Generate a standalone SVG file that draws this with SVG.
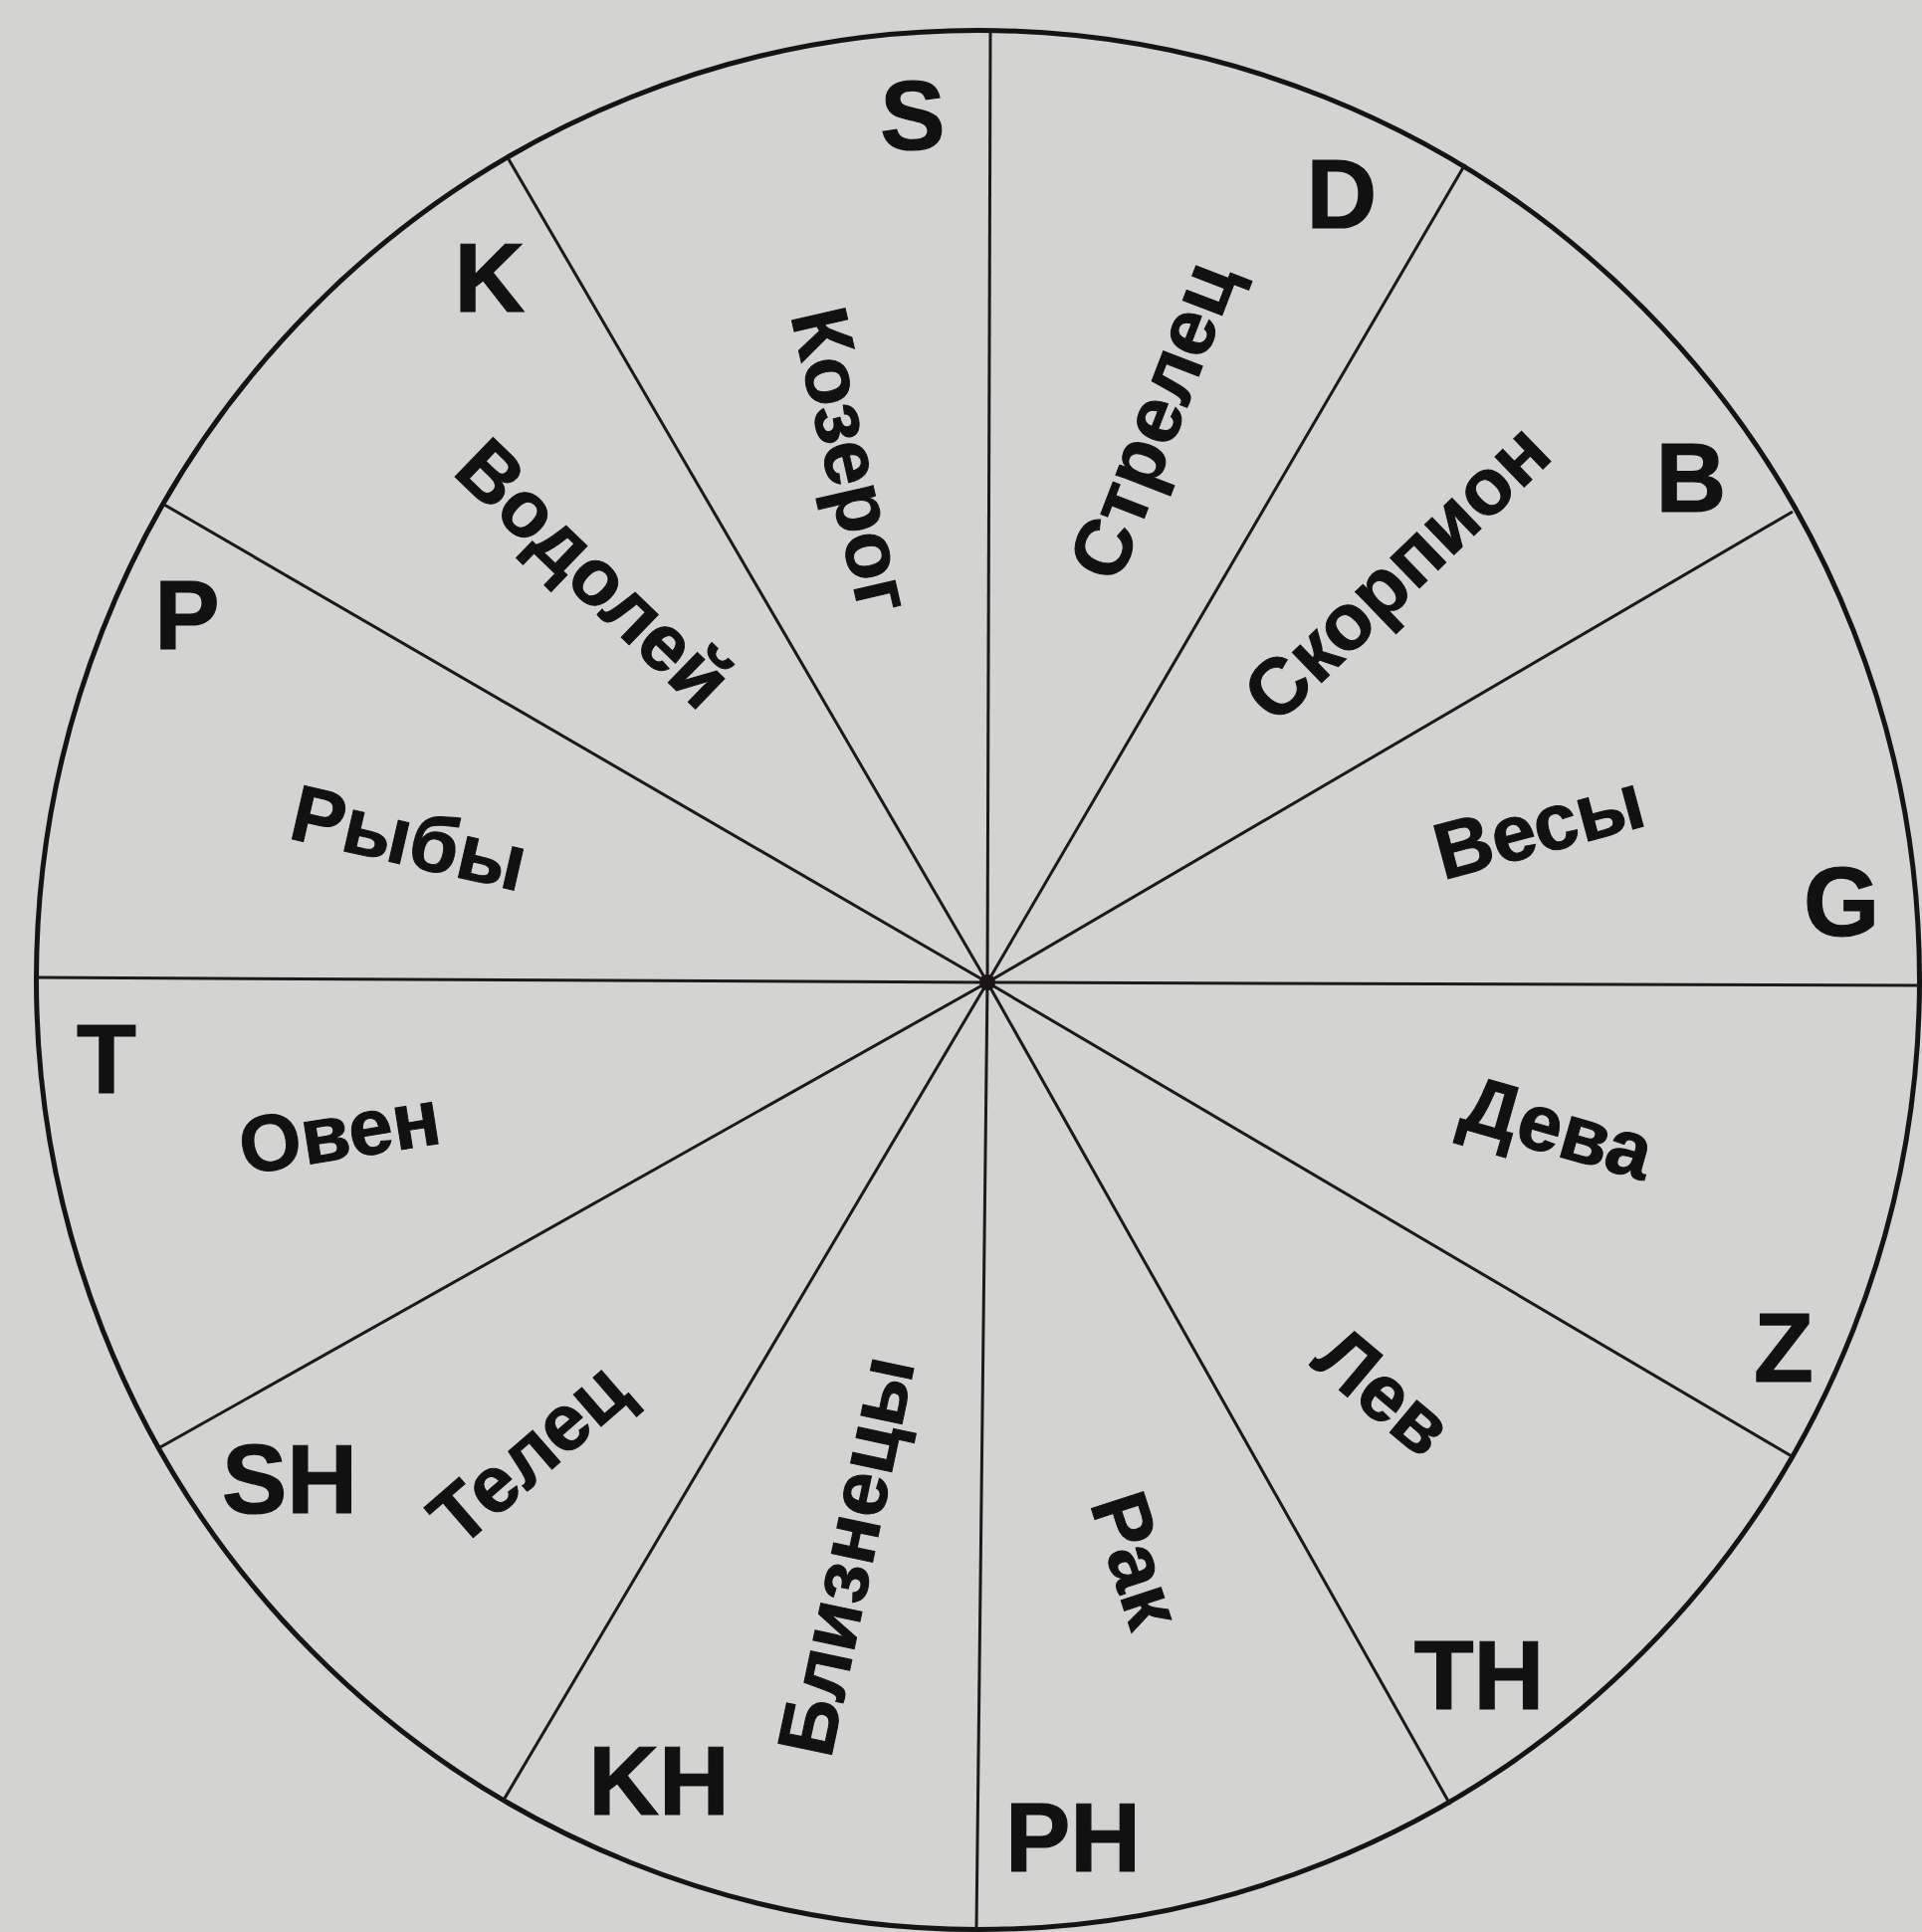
<svg xmlns="http://www.w3.org/2000/svg" width="1931" height="1941" viewBox="0 0 1931 1941">
  <style>
    .bg { fill: #d3d3d1; }
    .rim { fill: none; stroke: #141414; stroke-width: 5; }
    .spoke { stroke: #1a1a1a; stroke-width: 3; fill: none; }
    .hub { fill: #1a1414; }
    .letter { font-family: "Liberation Sans", Arial, sans-serif; font-weight: bold; font-size: 98px; fill: #111; stroke: #111; stroke-width: 1.2; text-anchor: middle; }
    .name { font-family: "Liberation Sans", Arial, sans-serif; font-weight: bold; font-size: 80px; fill: #111; stroke: #111; stroke-width: 1; text-anchor: middle; dominant-baseline: central; }
  </style>
  <rect class="bg" x="0" y="0" width="1931" height="1941"/>
  <ellipse class="rim" cx="982.5" cy="984.5" rx="946" ry="954"/>
  <g id="connectors">
    <line class="spoke" x1="992" y1="987" x2="995" y2="31"/>
    <line class="spoke" x1="992" y1="987" x2="1472" y2="165"/>
    <line class="spoke" x1="992" y1="987" x2="1801" y2="514"/>
    <line class="spoke" x1="992" y1="987" x2="1928" y2="990"/>
    <line class="spoke" x1="992" y1="987" x2="1800" y2="1463"/>
    <line class="spoke" x1="992" y1="987" x2="1457" y2="1813"/>
    <line class="spoke" x1="992" y1="987" x2="981" y2="1938"/>
    <line class="spoke" x1="992" y1="987" x2="505" y2="1810"/>
    <line class="spoke" x1="992" y1="987" x2="161" y2="1454"/>
    <line class="spoke" x1="992" y1="987" x2="37" y2="982"/>
    <line class="spoke" x1="992" y1="987" x2="165" y2="507"/>
    <line class="spoke" x1="992" y1="987" x2="511" y2="160"/>
    <circle class="hub" cx="992" cy="987" r="8"/>
  </g>
  <g id="sector-S">
    <text class="letter" x="917" y="150">S</text>
    <text class="name" transform="translate(856 462) rotate(77)">Козерог</text>
  </g>
  <g id="sector-D">
    <text class="letter" x="1348" y="229">D</text>
    <text class="name" transform="translate(1158 422) rotate(-69)">Стрелец</text>
  </g>
  <g id="sector-B">
    <text class="letter" x="1699" y="514">B</text>
    <text class="name" transform="translate(1403 575) rotate(-44)">Скорпион</text>
  </g>
  <g id="sector-G">
    <text class="letter" x="1850" y="940">G</text>
    <text class="name" transform="translate(1546 830) rotate(-15)">Весы</text>
  </g>
  <g id="sector-Z">
    <text class="letter" x="1792" y="1388">Z</text>
    <text class="name" transform="translate(1565 1133) rotate(16)">Дева</text>
  </g>
  <g id="sector-TH">
    <text class="letter" x="1486" y="1717">TH</text>
    <text class="name" transform="translate(1390 1398) rotate(40)">Лев</text>
  </g>
  <g id="sector-PH">
    <text class="letter" x="1078" y="1880">PH</text>
    <text class="name" transform="translate(1142 1567) rotate(72)">Рак</text>
  </g>
  <g id="sector-KH">
    <text class="letter" x="662" y="1823">KH</text>
    <text class="name" transform="translate(850 1563) rotate(-78)">Близнецы</text>
  </g>
  <g id="sector-SH">
    <text class="letter" x="291" y="1520">SH</text>
    <text class="name" transform="translate(531 1460) rotate(-41)">Телец</text>
  </g>
  <g id="sector-T">
    <text class="letter" x="107" y="1098">T</text>
    <text class="name" transform="translate(341 1137) rotate(-9)">Овен</text>
  </g>
  <g id="sector-P">
    <text class="letter" x="188" y="652">P</text>
    <text class="name" transform="translate(411 842) rotate(13)">Рыбы</text>
  </g>
  <g id="sector-K">
    <text class="letter" x="492" y="313">K</text>
    <text class="name" transform="translate(597 576) rotate(44)">Водолей</text>
  </g>
</svg>
